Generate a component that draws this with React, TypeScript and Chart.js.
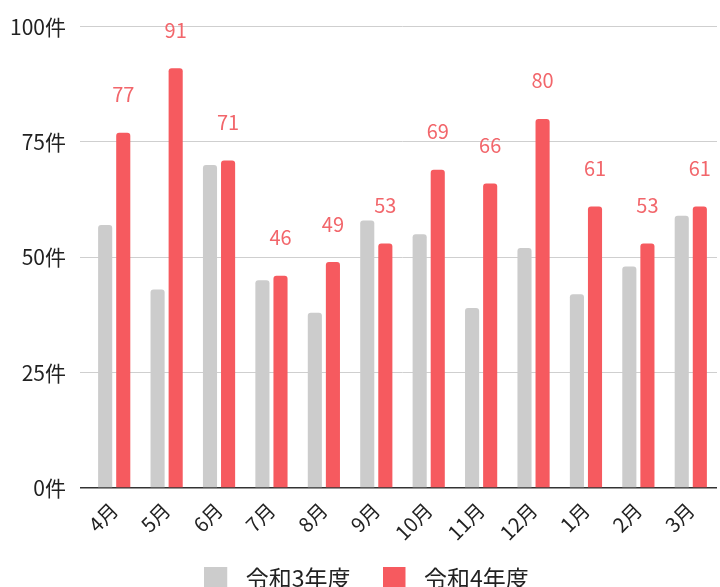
import React, { useEffect, useRef } from "react";
import { Chart, registerables } from "chart.js";

Chart.register(...registerables);

const categories = ["4月", "5月", "6月", "7月", "8月", "9月", "10月", "11月", "12月", "1月", "2月", "3月"];
const seriesR3 = [57, 43, 70, 45, 38, 58, 55, 39, 52, 42, 48, 59];
const seriesR4 = [77, 91, 71, 46, 49, 53, 69, 66, 80, 61, 53, 61];
const seriesNames = ["令和3年度", "令和4年度"];
const yTicks = [0, 25, 50, 75, 100];

const FONT = "'Noto Sans CJK JP', 'Noto Sans', sans-serif";
const GREY = "#cccccc";
const RED = "#f65a5f";
const LABEL_RED = "#f2666b";

const labelPlugin = {
  id: "redLabels",
  afterDatasetsDraw(chart: any) {
    const meta = chart.getDatasetMeta(1);
    const ctx = chart.ctx;
    ctx.save();
    ctx.fillStyle = LABEL_RED;
    ctx.font = `20px ${FONT}`;
    ctx.textAlign = "center";
    ctx.textBaseline = "middle";
    meta.data.forEach((el: any, i: number) => {
      ctx.fillText(String(seriesR4[i]), el.x, el.y - 38);
    });
    ctx.restore();
  },
};

const layoutTweakPlugin = {
  id: "layoutTweak",
  afterLayout(chart: any) {
    if (chart.legend) chart.legend.left += 16;
    if (chart.scales.x) chart.scales.x.bottom += 24;
  },
};

function legendSwatch(color: string) {
  const c = document.createElement("canvas");
  c.width = 30;
  c.height = 23;
  const g = c.getContext("2d")!;
  g.fillStyle = color;
  g.fillRect(0, 0, 23, 23);
  return c;
}

export default function App() {
  const ref = useRef<HTMLCanvasElement | null>(null);
  useEffect(() => {
    document.body.style.margin = "0";
    document.body.style.overflow = "hidden";
    const swatches = [legendSwatch(GREY), legendSwatch(RED)];
    const chart = new Chart(ref.current!, {
      type: "bar",
      data: {
        labels: categories,
        datasets: [
          {
            label: seriesNames[0],
            data: seriesR3,
            backgroundColor: GREY,
            borderRadius: 3,
            borderSkipped: "start",
            categoryPercentage: 0.69,
            barPercentage: 0.78,
          },
          {
            label: seriesNames[1],
            data: seriesR4,
            backgroundColor: RED,
            borderRadius: 3,
            borderSkipped: "start",
            categoryPercentage: 0.69,
            barPercentage: 0.78,
          },
        ],
      },
      options: {
        animation: false,
        responsive: false,
        maintainAspectRatio: false,
        layout: { padding: { top: 20, right: 3, left: 0, bottom: 0 } },
        plugins: {
          tooltip: { enabled: false },
          legend: {
            position: "bottom",
            labels: {
              color: "#222",
              font: { family: FONT, size: 23 },
              boxWidth: 23,
              boxHeight: 23,
              usePointStyle: true,
              pointStyleWidth: 30,
              padding: 32,
              generateLabels: (ch: any) =>
                ch.data.datasets.map((ds: any, i: number) => ({
                  text: ds.label,
                  fillStyle: ds.backgroundColor,
                  strokeStyle: ds.backgroundColor,
                  lineWidth: 0,
                  hidden: !ch.isDatasetVisible(i),
                  pointStyle: swatches[i],
                  datasetIndex: i,
                  fontColor: "#222",
                })),
            },
          },
        },
        scales: {
          x: {
            grid: { display: false },
            border: { display: false },
            ticks: {
              color: "#222",
              font: { family: FONT, size: 20 },
              minRotation: 45,
              maxRotation: 45,
              padding: 2,
            },
            afterFit(scale: any) {
              scale.height = 47;
            },
          },
          y: {
            min: 0,
            max: 100,
            afterBuildTicks(scale: any) {
              scale.ticks = yTicks.map((v) => ({ value: v }));
            },
            border: { display: false },
            grid: {
              color: (c: any) => (c.tick && c.tick.value === 0 ? "#333333" : "#cfcfcf"),
              lineWidth: (c: any) => (c.tick && c.tick.value === 0 ? 1.5 : 1),
              tickLength: 8,
            },
            ticks: {
              color: "#222",
              font: { family: FONT, size: 21 },
              padding: 14,
              callback: (v: any) => `${v}件`,
            },
            afterFit(scale: any) {
              scale.width = 88;
            },
          },
        },
      },
      plugins: [labelPlugin, layoutTweakPlugin],
    });
    return () => chart.destroy();
  }, []);
  return (
    <div style={{ width: 720, height: 587, overflow: "hidden" }}>
      <canvas ref={ref} width={720} height={600} style={{ display: "block" }} />
    </div>
  );
}
